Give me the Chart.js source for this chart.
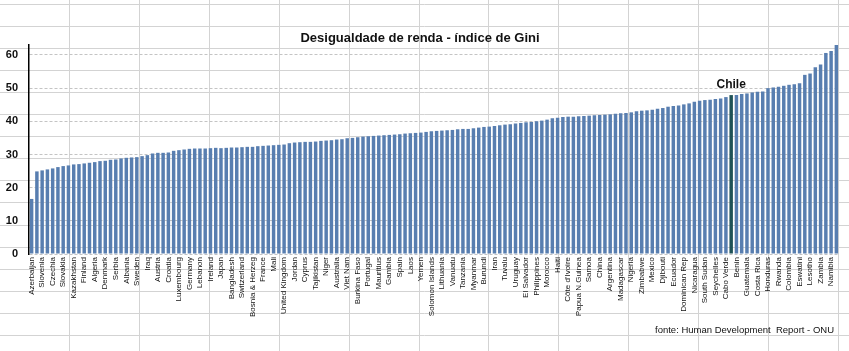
<!DOCTYPE html>
<html>
<head>
<meta charset="utf-8">
<script src="https://cdn.jsdelivr.net/npm/chart.js@4.4.1/dist/chart.umd.min.js"></script>
<style>
  html, body { margin: 0; padding: 0; background: #fff; }
  #wrap { width: 849px; height: 351px; position: relative; }
</style>
</head>
<body>
<div id="wrap"><canvas id="giniChart"></canvas></div>
<script>
// countries, sorted by Gini index (every other one is labelled on the axis)
const countries = [
  "Azerbaijan", "Ukraine", "Slovenia", "Belarus", "Czechia", "Moldova", "Slovakia", "Kyrgyzstan",
  "Kazakhstan", "Norway", "Finland", "Belgium", "Algeria", "Netherlands", "Denmark", "Iceland",
  "Serbia", "Egypt", "Albania", "Afghanistan", "Sweden", "Pakistan", "Iraq", "Timor-Leste",
  "Austria", "Malta", "Croatia", "Romania", "Luxembourg", "Ethiopia", "Germany", "Poland",
  "Lebanon", "Hungary", "Ireland", "Korea", "Japan", "Guinea", "Bangladesh", "Estonia",
  "Switzerland", "Sierra Leone", "Bosnia & Herzeg", "Mongolia", "France", "Nepal", "Mali", "Armenia",
  "United Kingdom", "Canada", "Jordan", "Sri Lanka", "Cyprus", "Italy", "Tajikistan", "Liberia",
  "Niger", "Greece", "Australia", "Tunisia", "Viet Nam", "Bhutan", "Burkina Faso", "Latvia",
  "Portugal", "Thailand", "Mauritius", "Montenegro", "Gambia", "Chad", "Spain", "India",
  "Laos", "Georgia", "Yemen", "Tonga", "Solomon Islands", "Indonesia", "Lithuania", "Russia",
  "Vanuatu", "Malawi", "Tanzania", "Ghana", "Myanmar", "Kiribati", "Burundi", "Israel",
  "Iran", "Uganda", "Tuvalu", "Turkey", "Uruguay", "Senegal", "El Salvador", "Gabon",
  "Philippines", "United States", "Morocco", "Cameroon", "Haiti", "Congo", "Côte d'Ivoire", "Kenya",
  "Papua N.Guinea", "Bulgaria", "Samoa", "Peru", "China", "Bolivia", "Argentina", "Malaysia",
  "Madagascar", "Togo", "Nigeria", "Angola", "Zimbabwe", "Guinea-Bissau", "Mexico", "Venezuela",
  "Djibouti", "Paraguay", "Ecuador", "Congo DR", "Dominican Rep", "Comoros", "Nicaragua", "Sao Tome",
  "South Sudan", "Panama", "Seychelles", "Saint Lucia", "Cabo Verde", "Chile", "Benin", "Micronesia",
  "Guatemala", "Belize", "Costa Rica", "Guyana", "Honduras", "Marshall Islands", "Rwanda", "Jamaica",
  "Colombia", "Trinidad", "Eswatini", "Brazil", "Lesotho", "Mozambique", "Zambia", "Suriname",
  "Namibia", "South Africa"
];

const giniValues = [
  16.6, 24.9, 25.2, 25.5, 25.8, 26.2, 26.5, 26.7, 27.0, 27.1,
  27.3, 27.5, 27.7, 28.0, 28.1, 28.4, 28.5, 28.8, 29.0, 29.1,
  29.2, 29.5, 29.8, 30.3, 30.5, 30.5, 30.6, 31.1, 31.3, 31.5,
  31.7, 31.8, 31.8, 31.8, 31.9, 32.0, 31.9, 32.0, 32.1, 32.1,
  32.2, 32.3, 32.3, 32.5, 32.6, 32.7, 32.8, 32.9, 33.0, 33.4,
  33.6, 33.7, 33.8, 33.8, 33.9, 34.1, 34.2, 34.3, 34.5, 34.6,
  34.9, 35.0, 35.2, 35.4, 35.5, 35.6, 35.7, 35.8, 35.9, 36.0,
  36.1, 36.3, 36.4, 36.5, 36.6, 36.8, 37.0, 37.1, 37.2, 37.3,
  37.4, 37.6, 37.7, 37.7, 37.9, 38.1, 38.3, 38.4, 38.6, 38.8,
  39.0, 39.1, 39.3, 39.5, 39.7, 39.8, 40.0, 40.2, 40.5, 40.9,
  41.1, 41.3, 41.4, 41.4, 41.5, 41.6, 41.7, 41.8, 41.9, 42.0,
  42.1, 42.3, 42.4, 42.5, 42.7, 43.0, 43.2, 43.3, 43.5, 43.8,
  44.0, 44.4, 44.6, 44.8, 45.1, 45.4, 45.9, 46.2, 46.4, 46.5,
  46.7, 46.9, 47.3, 47.9, 47.9, 48.2, 48.4, 48.7, 48.9, 49.0,
  50.0, 50.2, 50.4, 50.7, 51.0, 51.2, 51.5, 54.0, 54.4, 56.3,
  57.1, 60.6, 61.2, 63.0
];

const highlightCountry = "Chile";
const yTicks = [0, 10, 20, 30, 40, 50, 60];

const barBlue = "#587eb0";
const chileColor = "#1f5257";

// spreadsheet cell grid behind the (transparent) chart
const sheetGrid = {
  id: "sheetGrid",
  beforeDraw(chart) {
    const c = chart.ctx;
    c.save();
    c.fillStyle = "#fff";
    c.fillRect(0, 0, chart.width, chart.height);
    c.strokeStyle = "#d3d3d3";
    c.lineWidth = 1;
    c.beginPath();
    for (let x = 69; x < chart.width; x += 69.9) {
      c.moveTo(Math.round(x) + 0.5, 0);
      c.lineTo(Math.round(x) + 0.5, chart.height);
    }
    for (let y = 4; y < chart.height; y += 22.05) {
      c.moveTo(0, Math.round(y) + 0.5);
      c.lineTo(chart.width, Math.round(y) + 0.5);
    }
    c.stroke();
    c.restore();
  },
};

const textBits = {
  id: "textBits",
  afterDatasetsDraw(chart) {
    const c = chart.ctx;
    c.save();
    c.fillStyle = "#111";
    c.textAlign = "center";
    c.textBaseline = "middle";
    c.font = "bold 13px 'Liberation Sans', Arial, sans-serif";
    c.fillText("Desigualdade de renda - índice de Gini", 420, 38);

    const idx = countries.indexOf(highlightCountry);
    const bar = chart.getDatasetMeta(0).data[idx];
    c.font = "bold 12px 'Liberation Sans', Arial, sans-serif";
    c.fillText(highlightCountry, bar.x, bar.y - 10);

    c.textAlign = "right";
    c.font = "9.5px 'Liberation Sans', Arial, sans-serif";
    c.fillText("fonte: Human Development  Report - ONU", 834, 330);
    c.restore();
  },
};

const ctx = document.getElementById("giniChart").getContext("2d");
new Chart(ctx, {
  type: "bar",
  data: {
    labels: countries,
    datasets: [
      {
        label: "Gini",
        data: giniValues,
        backgroundColor: countries.map((n) =>
          n === highlightCountry ? chileColor : barBlue
        ),
        categoryPercentage: 1,
        barPercentage: 0.66,
      },
    ],
  },
  options: {
    responsive: true,
    maintainAspectRatio: false,
    animation: false,
    layout: { padding: { top: 45, right: 10, left: 0, bottom: 0 } },
    plugins: {
      legend: { display: false },
      tooltip: { enabled: false },
    },
    scales: {
      x: {
        afterFit(scale) {
          scale.height = 97;
        },
        grid: { display: false, drawTicks: false },
        border: { display: false },
        ticks: {
          autoSkip: false,
          maxRotation: 90,
          minRotation: 90,
          padding: 3,
          color: "#111",
          font: { family: "'Liberation Sans', Arial, sans-serif", size: 8 },
          callback: function (value, index) {
            return index % 2 === 0 ? this.getLabelForValue(value) : "";
          },
        },
      },
      y: {
        min: 0,
        max: 63,
        afterFit(scale) {
          scale.width = 29;
        },
        afterBuildTicks(scale) {
          scale.ticks = yTicks.map((v) => ({ value: v }));
        },
        grid: {
          color: "#c4c4c4",
          drawTicks: false,
        },
        border: { display: true, color: "#000", width: 1.5, dash: [3, 2] },
        ticks: {
          padding: 11,
          color: "#111",
          font: {
            family: "'Liberation Sans', Arial, sans-serif",
            size: 11,
            weight: "bold",
          },
        },
      },
    },
  },
  plugins: [sheetGrid, textBits],
});
</script>
</body>
</html>
